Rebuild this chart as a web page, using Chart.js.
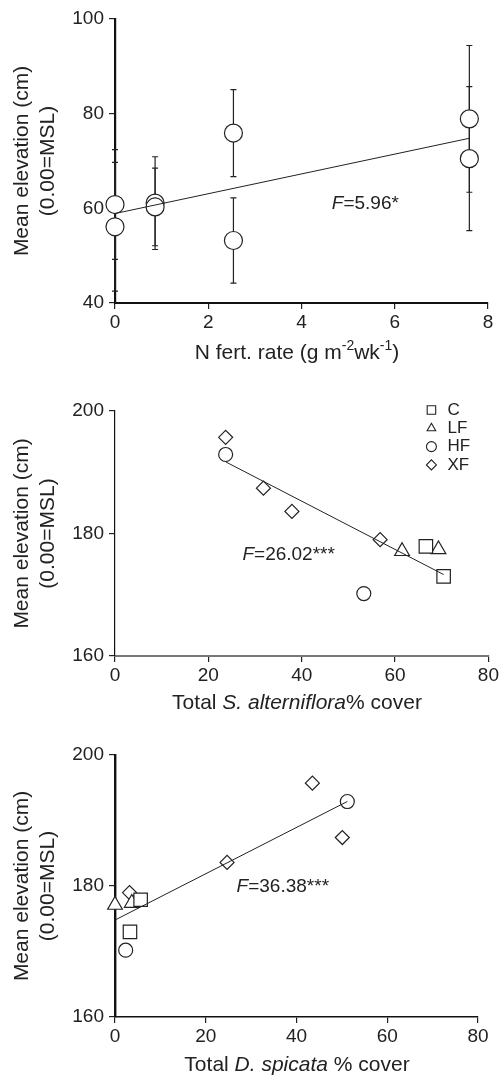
<!DOCTYPE html>
<html lang="en">
<head>
<meta charset="UTF-8">
<title>Mean elevation vs N fertilization and plant cover</title>
<style>
  body { margin: 0; background: #fff; }
  .panel { position: absolute; left: 0; width: 501px; }
  #p1 { top: 0; height: 365px; }
  #p2 { top: 365px; height: 350px; }
  #p3 { top: 715px; height: 362px; }
</style>
</head>
<body>
<div class="panel" id="p1"><canvas id="chart1"></canvas></div>
<div class="panel" id="p2"><canvas id="chart2"></canvas></div>
<div class="panel" id="p3"><canvas id="chart3"></canvas></div>

<script src="https://cdn.jsdelivr.net/npm/chart.js"></script>
<script>
// --- panel 1: elevation vs N fertilization rate (mean +/- error) ---
const fertRate = [0, 0, 0.86, 0.86, 2.54, 2.54, 7.6, 7.6];
const fertElev = [60.8, 56.1, 61.1, 60.3, 75.9, 53.2, 78.9, 70.5];
const fertErr  = [11.6, 13.6, 9.8, 8.2, 9.2, 9.0, 15.5, 15.2];
const fertFitX = [0, 7.6];
const fertFitY = [58.9, 74.8];
const fertXTicks = [0, 2, 4, 6, 8];
const fertYTicks = [40, 60, 80, 100];

// --- panels 2 & 3: treatments ---
const groups = ['C', 'LF', 'HF', 'XF'];
const groupStyles = ['rect', 'triangle', 'circle', 'rectRot'];
const groupRadius = [9.5, 8.5, 7, 7];

const elevC  = [177.9, 173.0];
const elevLF = [177.1, 177.4];
const elevHF = [192.9, 170.2];
const elevXF = [195.7, 187.4, 183.6, 179.0];

// total S. alterniflora % cover
const saC  = [66.6, 70.4];
const saLF = [61.5, 69.3];
const saHF = [23.7, 53.3];
const saXF = [23.7, 31.8, 37.9, 56.8];
const saFitX = [23.7, 70.4];
const saFitY = [191.7, 173.3];

// total D. spicata % cover
const dsC  = [5.65, 3.3];
const dsLF = [0, 3.7];
const dsHF = [51.2, 2.35];
const dsXF = [43.5, 50.1, 24.7, 3.2];
const dsFitX = [0, 51.2];
const dsFitY = [174.8, 192.9];

const coverXTicks = [0, 20, 40, 60, 80];
const coverYTicks = [160, 180, 200];

const FAMILY = '"Liberation Sans", Arial, Helvetica, sans-serif';
const INK = '#222';

function pts(xs, ys) {
  return xs.map((x, i) => ({ x: x, y: ys[i] }));
}

// draw text made of several runs (italic parts, superscripts)
function drawRuns(ctx, runs, x, y, align) {
  let total = 0;
  runs.forEach(r => {
    ctx.font = r.font;
    r.w = ctx.measureText(r.t).width;
    total += r.w;
  });
  let cx = align === 'center' ? x - total / 2 : x;
  ctx.save();
  ctx.fillStyle = INK;
  ctx.textAlign = 'left';
  ctx.textBaseline = 'middle';
  runs.forEach(r => {
    ctx.font = r.font;
    ctx.fillText(r.t, cx, y + (r.dy || 0));
    cx += r.w;
  });
  ctx.restore();
}

const normal = size => size + 'px ' + FAMILY;
const italic = size => 'italic ' + size + 'px ' + FAMILY;

function fitDataset(xs, ys) {
  return {
    type: 'line',
    data: pts(xs, ys),
    borderColor: '#222',
    borderWidth: 1,
    pointRadius: 0,
    fill: false,
    clip: false,
    order: 0
  };
}

function markerDataset(label, xs, ys, style, radius) {
  return {
    type: 'scatter',
    label: label,
    data: pts(xs, ys),
    pointStyle: style,
    pointRadius: radius,
    pointBackgroundColor: '#fff',
    pointBorderColor: '#222',
    pointBorderWidth: 1.2,
    clip: false,
    order: 1
  };
}

function axes(o) {
  return {
    x: {
      type: 'linear',
      min: o.xTicks[0],
      max: o.xTicks[o.xTicks.length - 1],
      afterBuildTicks: s => { s.ticks = o.xTicks.map(v => ({ value: v })); },
      afterFit: s => { s.height = o.xHeight; },
      border: { display: true, color: o.xColor, width: o.xWidth },
      grid: { drawOnChartArea: false, drawTicks: true, tickLength: 6, color: '#222', lineWidth: 1.2 },
      ticks: { color: INK, font: { size: 19, family: FAMILY }, padding: 2, maxRotation: 0 }
    },
    y: {
      type: 'linear',
      min: o.yTicks[0],
      max: o.yTicks[o.yTicks.length - 1],
      afterBuildTicks: s => { s.ticks = o.yTicks.map(v => ({ value: v })); },
      afterFit: s => { s.width = 115; },
      border: { display: true, color: o.yColor, width: o.yWidth },
      grid: { drawOnChartArea: false, drawTicks: true, tickLength: 6, color: '#222', lineWidth: 1.2 },
      ticks: { color: INK, font: { size: 19, family: FAMILY }, padding: 5 },
      title: {
        display: true,
        text: ['Mean elevation (cm)', '(0.00=MSL)'],
        color: INK,
        font: { size: 21, family: FAMILY, lineHeight: 1.2 },
        padding: { top: 10, bottom: 0 }
      }
    }
  };
}

// extra drawing: axis title with mixed fonts, F statistic, legend, error bars
function overlay(o) {
  return {
    id: 'overlay',
    beforeDatasetsDraw(chart) {
      if (!o.errors) return;
      const ctx = chart.ctx, xs = chart.scales.x, ys = chart.scales.y;
      ctx.save();
      ctx.strokeStyle = '#222';
      ctx.lineWidth = 1.2;
      o.errors.x.forEach((xv, i) => {
        const px = xs.getPixelForValue(xv);
        const top = ys.getPixelForValue(o.errors.y[i] + o.errors.e[i]);
        const bot = ys.getPixelForValue(o.errors.y[i] - o.errors.e[i]);
        ctx.beginPath();
        ctx.moveTo(px, top); ctx.lineTo(px, bot);
        ctx.moveTo(px - 3, top); ctx.lineTo(px + 3, top);
        ctx.moveTo(px - 3, bot); ctx.lineTo(px + 3, bot);
        ctx.stroke();
      });
      ctx.restore();
    },
    afterDraw(chart) {
      const ctx = chart.ctx, xs = chart.scales.x, ys = chart.scales.y;
      drawRuns(ctx, o.xTitle, 297, o.xTitleY, 'center');
      drawRuns(ctx, o.fText, xs.getPixelForValue(o.fAt[0]), ys.getPixelForValue(o.fAt[1]), 'left');
      if (o.legend) {
        const area = chart.chartArea;
        chart.data.datasets.forEach(ds => {
          if (!ds.label) return;
          const row = groups.indexOf(ds.label);
          const y = area.top - 1 + row * 18.3;
          ctx.save();
          ctx.fillStyle = '#fff';
          ctx.strokeStyle = '#222';
          ctx.lineWidth = 1.1;
          Chart.helpers.drawPoint(ctx, { pointStyle: ds.pointStyle, radius: ds.pointStyle === 'rect' ? 6 : 5, rotation: 0, borderWidth: 1.1 }, area.right - 57, y);
          ctx.restore();
          drawRuns(ctx, [{ t: ds.label, font: normal(17) }], area.right - 41, y, 'left');
        });
      }
    }
  };
}

function makeChart(id, datasets, o) {
  return new Chart(document.getElementById(id), {
    data: { datasets: datasets },
    options: {
      responsive: true,
      maintainAspectRatio: false,
      animation: false,
      events: [],
      layout: { padding: { top: o.top, right: o.right, left: 0, bottom: 0 } },
      plugins: { legend: { display: false }, tooltip: { enabled: false } },
      scales: axes(o)
    },
    plugins: [overlay(o)]
  });
}

// panel 1
makeChart('chart1', [
  fitDataset(fertFitX, fertFitY),
  markerDataset('', fertRate, fertElev, 'circle', 9)
], {
  top: 19, right: 13, xHeight: 62,
  xTicks: fertXTicks, yTicks: fertYTicks,
  xColor: '#111', xWidth: 2, yColor: '#111', yWidth: 2.2,
  errors: { x: fertRate, y: fertElev, e: fertErr },
  xTitle: [
    { t: 'N fert. rate (g m', font: normal(21) },
    { t: '-2', font: normal(14), dy: -7 },
    { t: 'wk', font: normal(21) },
    { t: '-1', font: normal(14), dy: -7 },
    { t: ')', font: normal(21) }
  ],
  xTitleY: 353,
  fText: [{ t: 'F', font: italic(19) }, { t: '=5.96*', font: normal(19) }],
  fAt: [4.65, 60.9]
});

// panel 2
const saSets = [saC, saLF, saHF, saXF];
const elevSets = [elevC, elevLF, elevHF, elevXF];
makeChart('chart2', [fitDataset(saFitX, saFitY)].concat(
  groups.map((g, i) => markerDataset(g, saSets[i], elevSets[i], groupStyles[i], groupRadius[i]))
), {
  top: 46, right: 12, xHeight: 59,
  xTicks: coverXTicks, yTicks: coverYTicks,
  xColor: '#777', xWidth: 2, yColor: '#111', yWidth: 1.2,
  legend: true,
  xTitle: [
    { t: 'Total ', font: normal(21) },
    { t: 'S. alterniflora', font: italic(21) },
    { t: '% cover', font: normal(21) }
  ],
  xTitleY: 338,
  fText: [{ t: 'F', font: italic(19) }, { t: '=26.02***', font: normal(19) }],
  fAt: [27.3, 176.5]
});

// panel 3
const dsSets = [dsC, dsLF, dsHF, dsXF];
makeChart('chart3', [fitDataset(dsFitX, dsFitY)].concat(
  groups.map((g, i) => markerDataset(g, dsSets[i], elevSets[i], groupStyles[i], groupRadius[i]))
), {
  top: 40, right: 23, xHeight: 60,
  xTicks: coverXTicks, yTicks: coverYTicks,
  xColor: '#111', xWidth: 1.5, yColor: '#111', yWidth: 2.4,
  xTitle: [
    { t: 'Total ', font: normal(21) },
    { t: 'D. spicata', font: italic(21) },
    { t: ' % cover', font: normal(21) }
  ],
  xTitleY: 350,
  fText: [{ t: 'F', font: italic(19) }, { t: '=36.38***', font: normal(19) }],
  fAt: [26.8, 179.9]
});
</script>
</body>
</html>
